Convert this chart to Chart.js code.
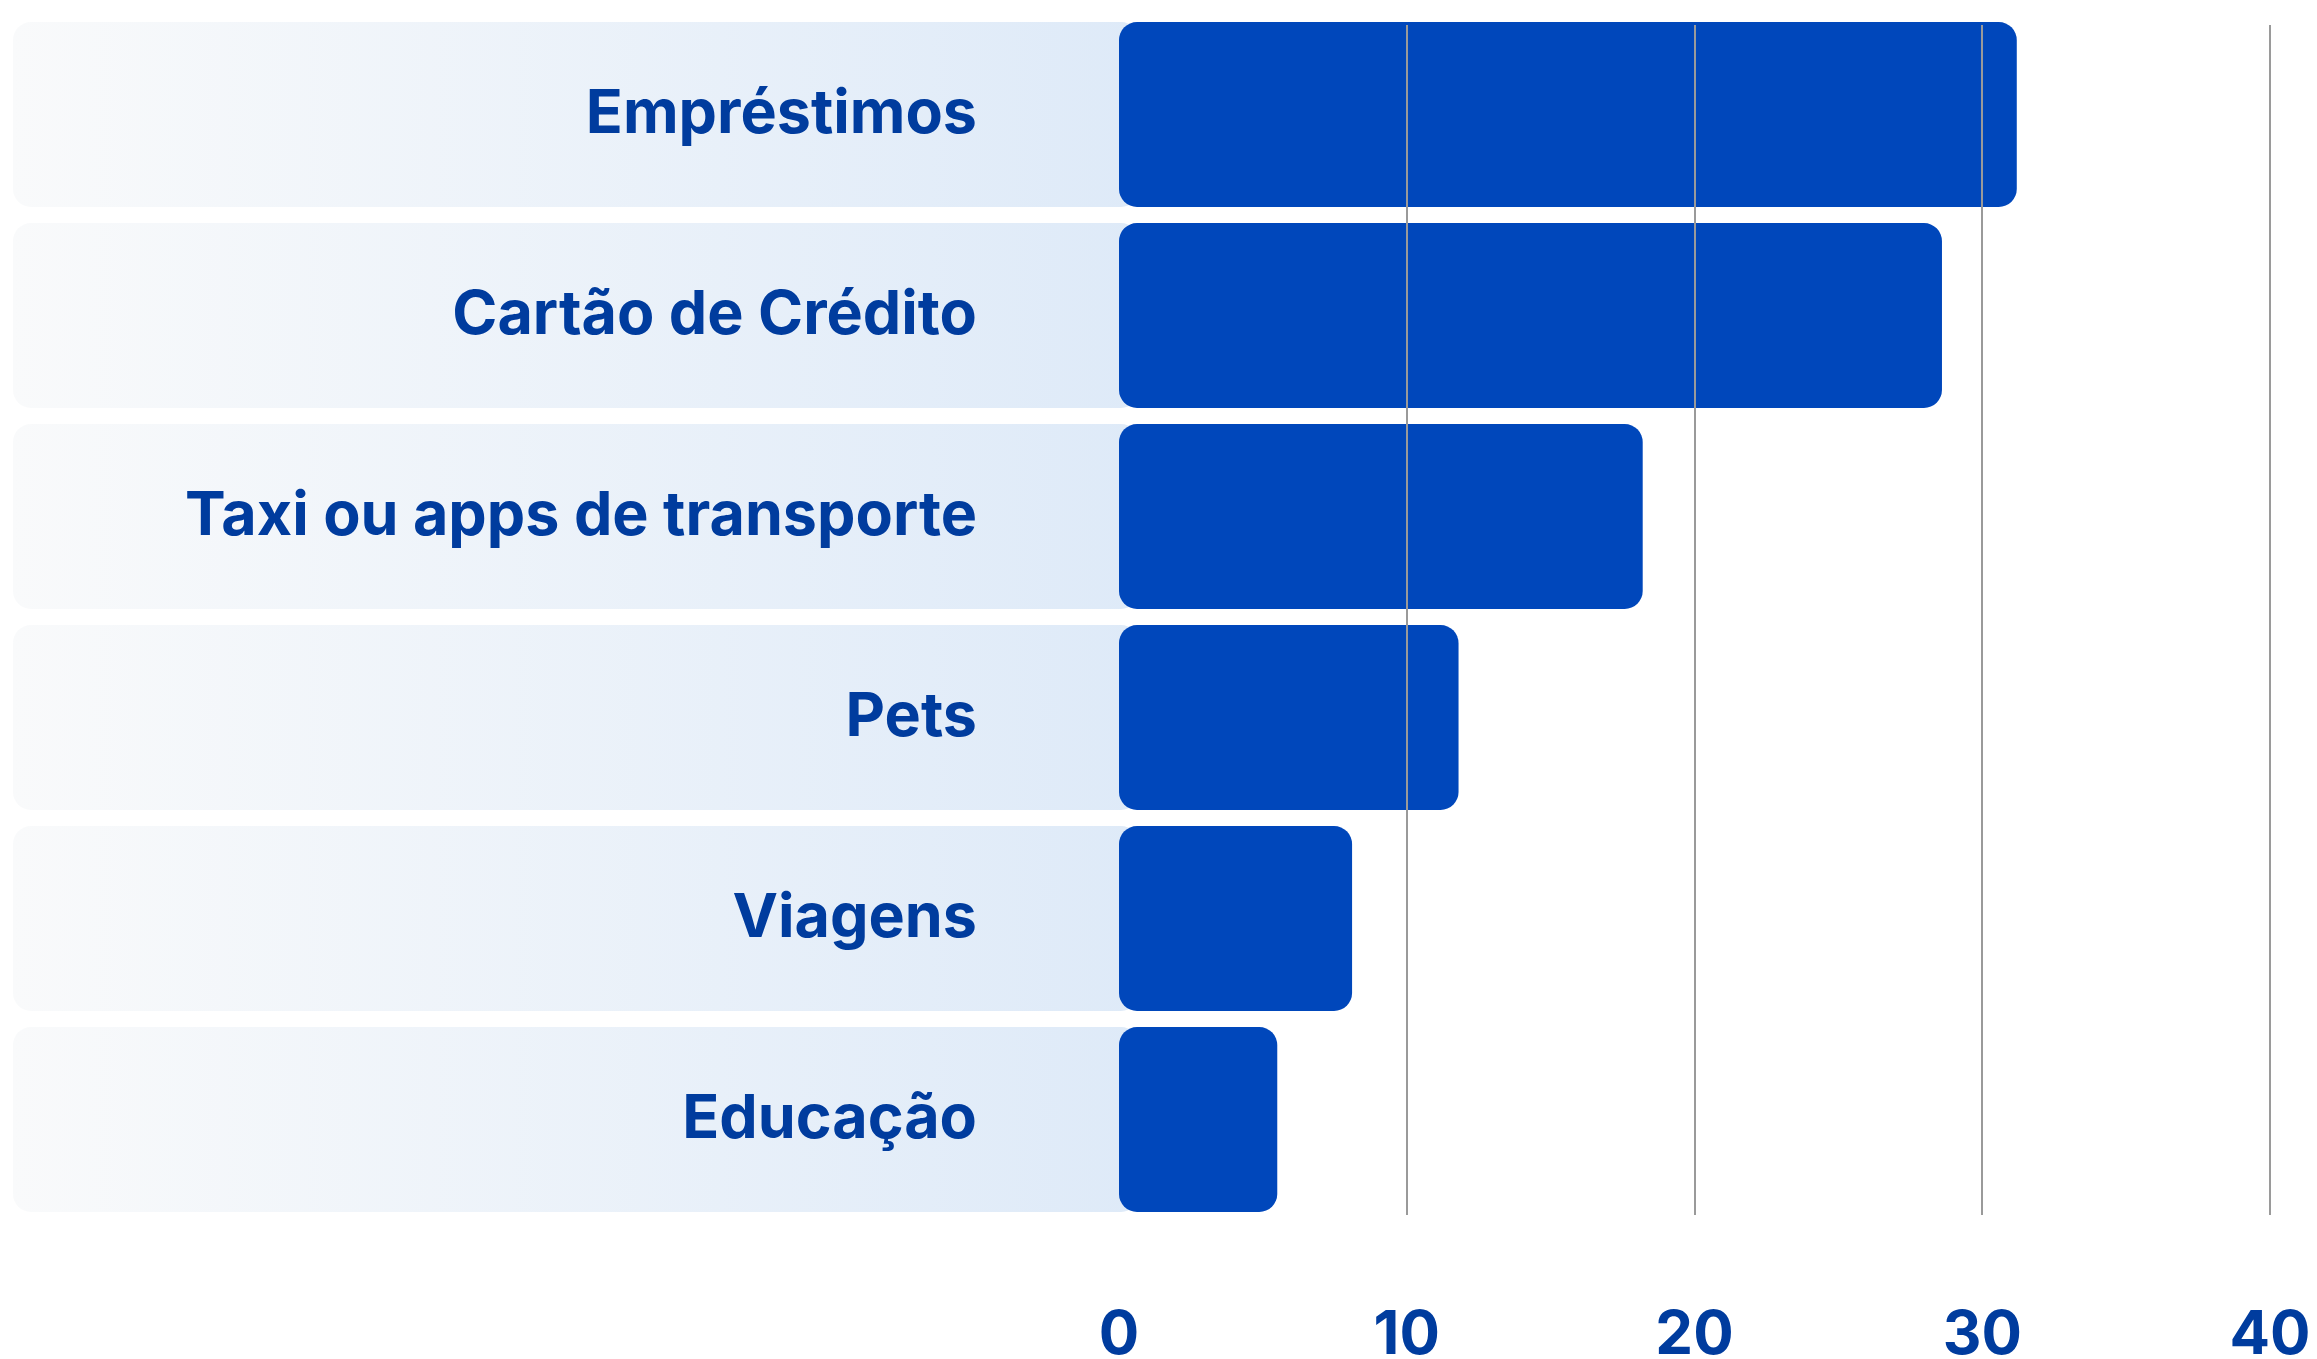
<!DOCTYPE html>
<html lang="pt-BR">
<head>
<meta charset="UTF-8">
<title>Gastos por categoria</title>
<script src="https://cdn.jsdelivr.net/npm/chart.js@4.4.1/dist/chart.umd.min.js"></script>
<style>
  body {
    margin: 0;
    background: #FFFFFF;
  }
  #conteiner_grafico {
    width: 2317px;
    height: 1359px;
    position: relative;
  }
</style>
</head>
<body>
<div id="conteiner_grafico">
  <canvas id="graficoCategorias"></canvas>
</div>

<script>
const categorias = ['Empréstimos', 'Cartão de Crédito', 'Taxi ou apps de transporte', 'Pets', 'Viagens', 'Educação'];
const valores = [31.2, 28.6, 18.2, 11.8, 8.1, 5.5];
const ticksEixoX = [0, 10, 20, 30, 40];

const corBarra = '#0047BB';
const corTexto = '#003C9E';
const corGrade = '#9A9A9A';

// faixa clarinha atras de cada categoria, indo da borda ate o inicio da barra
// (desenha no beforeDraw pra nao cobrir os rotulos do eixo y)
const pluginFaixas = {
  id: 'faixas',
  beforeDraw(chart) {
    const ctx = chart.ctx;
    const eixoY = chart.scales.y;
    const eixoX = chart.scales.x;
    const meta = chart.getDatasetMeta(0);
    const inicio = 13;
    const fim = eixoX.getPixelForValue(0) + 20;

    ctx.save();
    meta.data.forEach((barra, i) => {
      const centro = eixoY.getPixelForValue(i);
      const altura = barra.height;
      const topo = centro - altura / 2;

      const gradiente = ctx.createLinearGradient(inicio, 0, fim, 0);
      gradiente.addColorStop(0, '#F9FAFB');
      gradiente.addColorStop(1, '#DEEAF8');

      ctx.fillStyle = gradiente;
      ctx.beginPath();
      ctx.roundRect(inicio, topo, fim - inicio, altura, 18);
      ctx.fill();
    });
    ctx.restore();
  }
};

// linhas verticais por cima das barras (sem a do zero), um pouco mais curtas que a area
const pluginGrade = {
  id: 'gradeFrente',
  afterDatasetsDraw(chart) {
    const ctx = chart.ctx;
    const eixoX = chart.scales.x;
    const area = chart.chartArea;

    ctx.save();
    ctx.strokeStyle = corGrade;
    ctx.lineWidth = 2;
    ticksEixoX.forEach(v => {
      if (v === 0) return;
      const x = Math.round(eixoX.getPixelForValue(v));
      ctx.beginPath();
      ctx.moveTo(x, area.top + 11);
      ctx.lineTo(x, area.bottom - 5);
      ctx.stroke();
    });
    ctx.restore();
  }
};

document.addEventListener('DOMContentLoaded', () => {
  const ctxCategorias = document.getElementById('graficoCategorias');

  new Chart(ctxCategorias, {
    type: 'bar',
    data: {
      labels: categorias,
      datasets: [{
        data: valores,
        backgroundColor: corBarra,
        borderRadius: 18,
        borderSkipped: false,
        categoryPercentage: 1,
        barPercentage: 0.92
      }]
    },
    plugins: [pluginFaixas, pluginGrade],
    options: {
      indexAxis: 'y',
      responsive: true,
      maintainAspectRatio: false,
      animation: false,
      layout: {
        padding: { top: 14, right: 47, left: 0, bottom: 0 }
      },
      plugins: {
        legend: { display: false },
        tooltip: { enabled: false }
      },
      scales: {
        x: {
          min: 0,
          max: 40,
          afterBuildTicks(eixo) {
            eixo.ticks = ticksEixoX.map(v => ({ value: v }));
          },
          afterFit(eixo) {
            eixo.height = 139;
            eixo.paddingLeft = 0;
            eixo.paddingRight = 0;
          },
          border: { display: false },
          grid: { display: false, drawTicks: false },
          ticks: {
            padding: 80,
            color: corTexto,
            font: { family: 'Inter', size: 60, weight: '700' }
          }
        },
        y: {
          afterFit(eixo) {
            eixo.width = 1119;
            eixo.paddingTop = 0;
            eixo.paddingBottom = 0;
          },
          border: { display: false },
          grid: { display: false, drawTicks: false },
          ticks: {
            padding: 142,
            color: corTexto,
            font: { family: 'Inter', size: 61, weight: '700' }
          }
        }
      }
    }
  });
});
</script>
</body>
</html>
